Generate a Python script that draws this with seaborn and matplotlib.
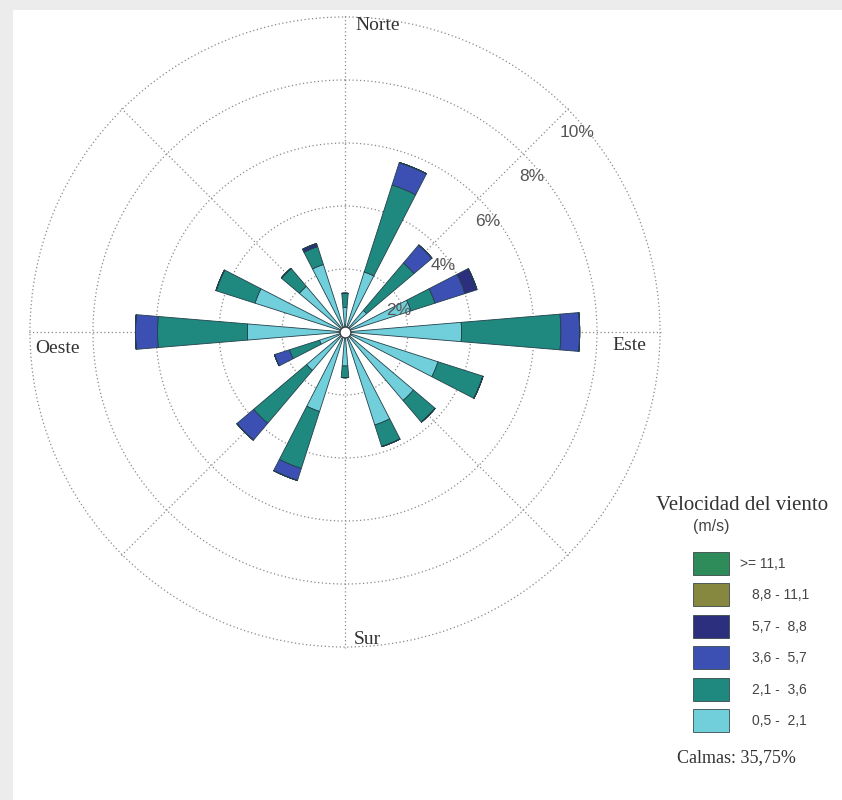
import numpy as np
import matplotlib
matplotlib.use("Agg")
import matplotlib.pyplot as plt
from matplotlib.patches import Rectangle
import seaborn as sns

# wind directions, clockwise from north
directions = ["N", "NNE", "NE", "ENE", "E", "ESE", "SE", "SSE",
              "S", "SSW", "SW", "WSW", "W", "WNW", "NW", "NNW"]

# frequency (%) per speed class, one value per direction
v_05_21 = [0.78, 2.0, 0.9, 2.2, 3.7, 3.1, 2.85, 3.1, 1.08, 2.65, 1.6, 0.85, 3.1, 3.0, 1.9, 2.25]
v_21_36 = [0.45, 2.9, 1.97, 0.8, 3.15, 1.5, 0.9, 0.72, 0.37, 1.9, 2.2, 1.0, 2.85, 1.3, 0.75, 0.6]
v_36_57 = [0, 0.75, 0.75, 1.0, 0.6, 0, 0, 0, 0, 0.4, 0.7, 0.5, 0.7, 0, 0, 0]
v_57_88 = [0, 0, 0, 0.4, 0, 0, 0, 0, 0, 0, 0, 0, 0, 0, 0, 0.1]
v_88_111 = [0] * 16
v_111 = [0] * 16

speed_labels = ["0,5 -  2,1", "2,1 -  3,6", "3,6 -  5,7", "5,7 -  8,8", "8,8 - 11,1", ">= 11,1"]
speed_colors = ["#70cfdb", "#1f897f", "#3c4fb2", "#2c2e7e", "#87883f", "#2e8c5a"]
ring_values = [2, 4, 6, 8, 10]
calmas = "35,75%"

sns.set_style("white")

W, H = 842, 800
fig = plt.figure(figsize=(W / 100, H / 100), dpi=100, facecolor="#ececec")
# white page with a soft grey border at top and left
fig.add_artist(Rectangle((13 / W, 0), 1, 1 - 10 / H, transform=fig.transFigure,
                         facecolor="white", edgecolor="none", zorder=0))


def fx(x):
    return x / W


def fy(y):
    return 1 - y / H


cx, cy, R = 345, 332, 316.6
ax = fig.add_axes([fx(cx - R), fy(cy + R), 2 * R / W, 2 * R / H], projection="polar")
ax.set_facecolor("none")
ax.set_theta_zero_location("N")
ax.set_theta_direction(-1)

theta = np.deg2rad(np.arange(16) * 22.5)
width = np.deg2rad(9.5)
series = [v_05_21, v_21_36, v_36_57, v_57_88, v_88_111, v_111]
bottom = np.zeros(16)
for vals, col in zip(series, speed_colors):
    vals = np.array(vals, dtype=float)
    ax.bar(theta, vals, width=width, bottom=bottom, color=col,
           edgecolor="#23404a", linewidth=0.6, zorder=3)
    bottom += vals

ax.scatter([0], [0], s=60, color="white", edgecolor="#333333", linewidth=0.8, zorder=5)

ax.set_ylim(0, 10.05)
ax.set_yticks(ring_values)
ax.set_yticklabels([])
ax.set_xticks(np.deg2rad(np.arange(0, 360, 45)))
ax.set_xticklabels([])
ax.grid(True, color="#8a8a8a", linestyle=(0, (1, 2)), linewidth=0.9)
ax.spines["polar"].set_visible(False)

for v in ring_values:
    ax.annotate(f"{v}%", xy=(np.pi / 4, v), xytext=(9, -23), textcoords="offset pixels",
                ha="center", va="center", fontsize=12.5, color="#555555",
                family="Liberation Sans", zorder=6)

serif = "Liberation Serif"
fig.text(fx(355), fy(25), "Norte", ha="left", va="center", fontsize=14, family=serif, color="#333333")
fig.text(fx(612), fy(346), "Este", ha="left", va="center", fontsize=14, family=serif, color="#333333")
fig.text(fx(35), fy(348), "Oeste", ha="left", va="center", fontsize=14, family=serif, color="#333333")
fig.text(fx(354), fy(640), "Sur", ha="left", va="center", fontsize=14, family=serif, color="#333333")

# legend
fig.text(fx(656), fy(505), "Velocidad del viento", ha="left", va="center", fontsize=15,
         family=serif, color="#333333")
fig.text(fx(693), fy(526), "(m/s)", ha="left", va="center", fontsize=11.5,
         family="Liberation Sans", color="#444444")
for i, (lab, col) in enumerate(zip(speed_labels[::-1], speed_colors[::-1])):
    top = 552 + i * 31.4
    fig.add_artist(Rectangle((fx(693), fy(top + 23)), 36 / W, 23 / H, transform=fig.transFigure,
                             facecolor=col, edgecolor="#3a4a4a", linewidth=0.6))
    x0 = 740 if i == 0 else 752
    fig.text(fx(x0), fy(top + 12), lab, ha="left", va="center", fontsize=10,
             family="Liberation Sans", color="#444444")
fig.text(fx(677), fy(758), "Calmas: " + calmas, ha="left", va="center", fontsize=13,
         family=serif, color="#333333")

fig.savefig("out.png", dpi=100, facecolor=fig.get_facecolor())
